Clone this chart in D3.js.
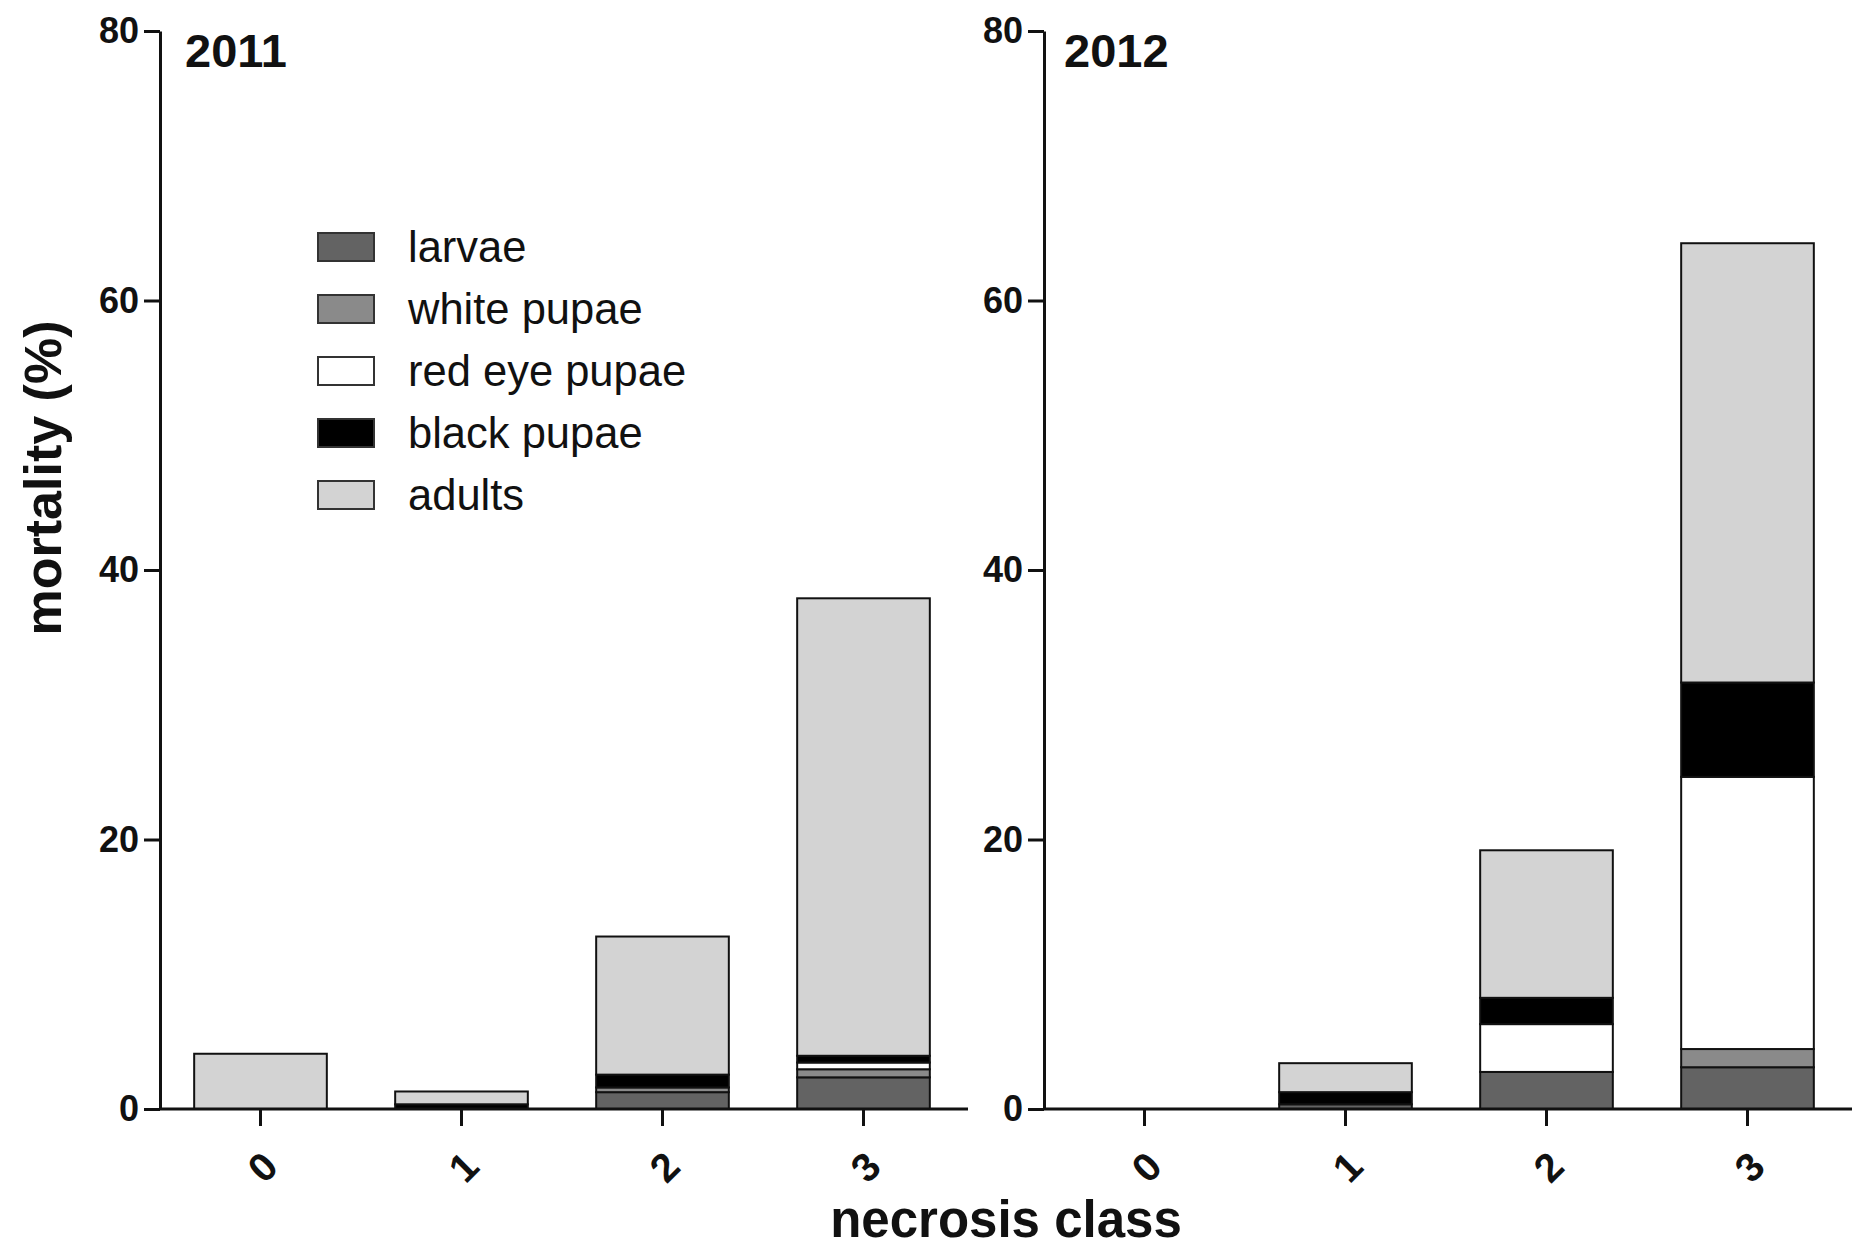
<!DOCTYPE html>
<html>
<head>
<meta charset="utf-8">
<script src="https://cdn.jsdelivr.net/npm/d3@7"></script>
<style>
  body { margin: 0; background: #fff; }
  text { font-family: "Liberation Sans", Arial, sans-serif; }
</style>
</head>
<body>
<div id="chart"></div>
<script>
// necrosis classes and stages
var categories = ["0", "1", "2", "3"];
var stages = ["larvae", "white pupae", "red eye pupae", "black pupae", "adults"];
var yTicks = [0, 20, 40, 60, 80];

// 2011 mortality (%) per stage
var larvae2011 = [0, 0, 1.25, 2.35];
var whitePupae2011 = [0, 0, 0.35, 0.6];
var redEye2011 = [0, 0, 0, 0.5];
var blackPupae2011 = [0, 0.35, 0.95, 0.5];
var adults2011 = [4.1, 0.95, 10.25, 33.95];

// 2012 mortality (%) per stage
var larvae2012 = [0, 0.35, 2.75, 3.1];
var whitePupae2012 = [0, 0, 0, 1.35];
var redEye2012 = [0, 0, 3.55, 20.2];
var blackPupae2012 = [0, 0.9, 1.95, 7.0];
var adults2012 = [0, 2.15, 10.95, 32.6];

var colors = ["#636363", "#8a8a8a", "#ffffff", "#000000", "#d3d3d3"];

function rows(series) {
  return categories.map(function(c, i) {
    var r = {cls: c};
    stages.forEach(function(s, k) { r[s] = series[k][i]; });
    return r;
  });
}

var panels = [
  {year: "2011", x0: 160, yearDx: 25, data: rows([larvae2011, whitePupae2011, redEye2011, blackPupae2011, adults2011])},
  {year: "2012", x0: 1044, yearDx: 20, data: rows([larvae2012, whitePupae2012, redEye2012, blackPupae2012, adults2012])}
];

var svg = d3.select("#chart").append("svg")
  .attr("width", 1860)
  .attr("height", 1249);

var y = d3.scaleLinear().domain([0, 80]).range([1109, 31]);
var stack = d3.stack().keys(stages);
var color = d3.scaleOrdinal().domain(stages).range(colors);

panels.forEach(function(p) {
  var x = d3.scaleBand()
    .domain(categories)
    .range([p.x0, p.x0 + 804])
    .paddingInner(0.34)
    .paddingOuter(0.17);

  var g = svg.append("g");
  var layers = stack(p.data);

  layers.forEach(function(layer) {
    g.selectAll(null)
      .data(layer.filter(function(d) { return d[1] - d[0] > 0; }))
      .enter().append("rect")
      .attr("x", function(d) { return x(d.data.cls); })
      .attr("y", function(d) { return y(d[1]); })
      .attr("width", x.bandwidth())
      .attr("height", function(d) { return y(d[0]) - y(d[1]); })
      .attr("fill", color(layer.key))
      .attr("stroke", "#111")
      .attr("stroke-width", 2);
  });

  // y axis
  var ya = g.append("g")
    .attr("transform", "translate(" + p.x0 + ",0)")
    .call(d3.axisLeft(y).tickValues(yTicks).tickSize(16).tickSizeOuter(0).tickPadding(5));
  ya.select(".domain").attr("stroke-width", 3).attr("stroke", "#111");
  ya.selectAll(".tick line").attr("stroke-width", 3).attr("stroke", "#111");
  ya.selectAll(".tick text")
    .style("font-size", "36px")
    .style("font-weight", "bold")
    .attr("fill", "#111");

  // x axis
  var xa = g.append("g")
    .attr("transform", "translate(0," + y(0) + ")")
    .call(d3.axisBottom(x).tickSize(17).tickSizeOuter(0));
  xa.select(".domain").attr("d", "M" + (p.x0 - 1) + ",0H" + (p.x0 + 808))
    .attr("stroke-width", 3).attr("stroke", "#111");
  xa.selectAll(".tick line").attr("stroke-width", 3).attr("stroke", "#111");
  xa.selectAll(".tick text")
    .attr("y", 0).attr("dy", "0.35em")
    .attr("transform", "translate(2,58) rotate(-45)")
    .attr("text-anchor", "middle")
    .style("font-size", "40px")
    .style("font-weight", "bold")
    .attr("fill", "#111");

  g.append("text")
    .attr("x", p.x0 + p.yearDx)
    .attr("y", 67)
    .style("font-size", "47px")
    .style("font-weight", "bold")
    .attr("fill", "#111")
    .text(p.year);
});

// legend
var legend = svg.append("g");
stages.forEach(function(s, i) {
  var cy = 247 + i * 62;
  legend.append("rect")
    .attr("x", 318).attr("y", cy - 14)
    .attr("width", 56).attr("height", 28)
    .attr("fill", color(s))
    .attr("stroke", "#333")
    .attr("stroke-width", 2);
  legend.append("text")
    .attr("x", 408).attr("y", cy + 15)
    .style("font-size", "43.5px")
    .attr("fill", "#111")
    .text(s);
});

// axis titles
svg.append("text")
  .attr("transform", "translate(61,478) rotate(-90)")
  .attr("text-anchor", "middle")
  .style("font-size", "52px")
  .style("font-weight", "bold")
  .attr("fill", "#111")
  .text("mortality (%)");

svg.append("text")
  .attr("x", 1006).attr("y", 1237)
  .attr("text-anchor", "middle")
  .style("font-size", "51px")
  .style("font-weight", "bold")
  .attr("fill", "#111")
  .text("necrosis class");
</script>
</body>
</html>
